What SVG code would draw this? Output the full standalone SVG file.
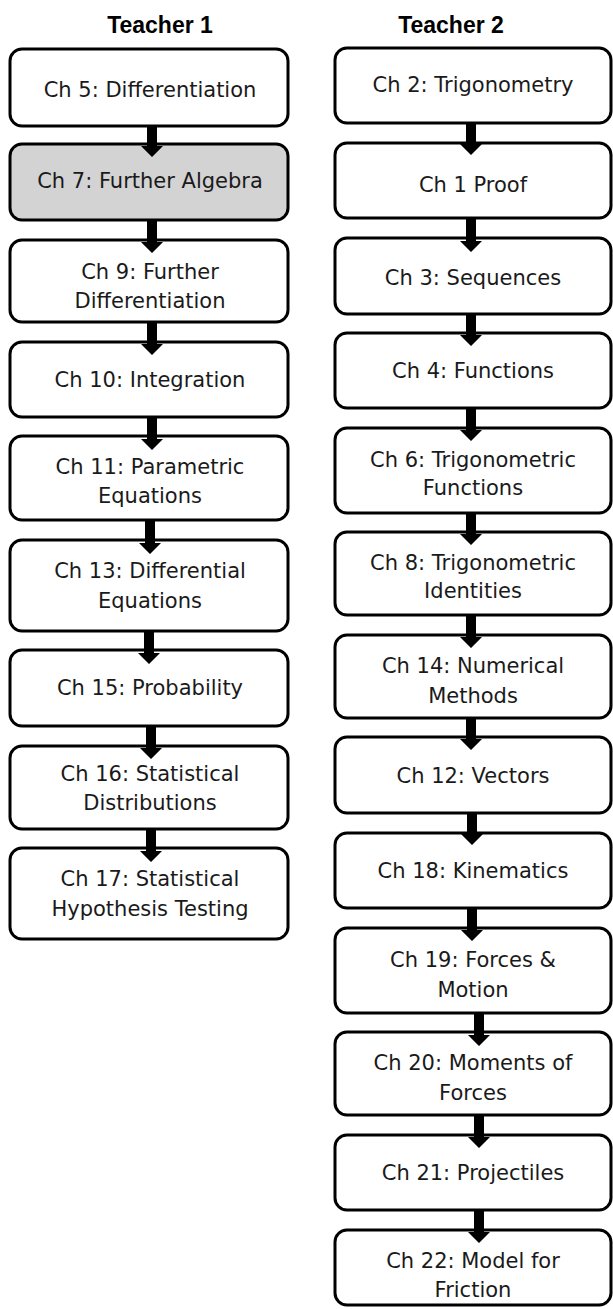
<svg xmlns="http://www.w3.org/2000/svg" width="613" height="1309" viewBox="0 0 613 1309">
<style>
.box{fill:#fff;stroke:#000;stroke-width:3}
.hl{fill:#d3d3d3}
.t{font-family:"DejaVu Sans",sans-serif;font-size:21px;fill:#1a1a1a;text-anchor:middle}
.h{font-family:"Liberation Sans",sans-serif;font-weight:bold;font-size:23px;fill:#000;text-anchor:middle}
.arr{fill:#000}
</style>
<rect width="613" height="1309" fill="#fff"/>
<g id="titles">
<text class="h" x="160" y="33">Teacher 1</text>
<text class="h" x="451" y="33">Teacher 2</text>
</g>
<g id="t1-ch5"><rect class="box" x="10" y="49" width="278" height="77" rx="12"/><text class="t" x="150" y="97">Ch 5: Differentiation</text></g>
<g id="t1-ch7"><rect class="box hl" x="10" y="144" width="278" height="76" rx="12"/><text class="t" x="150" y="188">Ch 7: Further Algebra</text></g>
<g id="t1-ch9"><rect class="box" x="10" y="240" width="278" height="82" rx="12"/><text class="t" x="150" y="279">Ch 9: Further</text><text class="t" x="150" y="308">Differentiation</text></g>
<g id="t1-ch10"><rect class="box" x="10" y="342" width="278" height="75" rx="12"/><text class="t" x="150" y="387">Ch 10: Integration</text></g>
<g id="t1-ch11"><rect class="box" x="10" y="436" width="278" height="84" rx="12"/><text class="t" x="150" y="474">Ch 11: Parametric</text><text class="t" x="150" y="503">Equations</text></g>
<g id="t1-ch13"><rect class="box" x="10" y="540" width="278" height="91" rx="12"/><text class="t" x="150" y="578">Ch 13: Differential</text><text class="t" x="150" y="608">Equations</text></g>
<g id="t1-ch15"><rect class="box" x="10" y="650" width="278" height="76" rx="12"/><text class="t" x="150" y="695">Ch 15: Probability</text></g>
<g id="t1-ch16"><rect class="box" x="10" y="746" width="278" height="83" rx="12"/><text class="t" x="150" y="781">Ch 16: Statistical</text><text class="t" x="150" y="810">Distributions</text></g>
<g id="t1-ch17"><rect class="box" x="10" y="848" width="278" height="91" rx="12"/><text class="t" x="150" y="886">Ch 17: Statistical</text><text class="t" x="150" y="916">Hypothesis Testing</text></g>

<g id="t2-ch2"><rect class="box" x="335" y="48" width="276" height="75" rx="12"/><text class="t" x="473" y="92">Ch 2: Trigonometry</text></g>
<g id="t2-ch1"><rect class="box" x="335" y="143" width="276" height="75" rx="12"/><text class="t" x="473" y="192">Ch 1 Proof</text></g>
<g id="t2-ch3"><rect class="box" x="335" y="238" width="276" height="76" rx="12"/><text class="t" x="473" y="285">Ch 3: Sequences</text></g>
<g id="t2-ch4"><rect class="box" x="335" y="333" width="276" height="75" rx="12"/><text class="t" x="473" y="378">Ch 4: Functions</text></g>
<g id="t2-ch6"><rect class="box" x="335" y="428" width="276" height="85" rx="12"/><text class="t" x="473" y="467">Ch 6: Trigonometric</text><text class="t" x="473" y="495">Functions</text></g>
<g id="t2-ch8"><rect class="box" x="335" y="532" width="276" height="83" rx="12"/><text class="t" x="473" y="570">Ch 8: Trigonometric</text><text class="t" x="473" y="598">Identities</text></g>
<g id="t2-ch14"><rect class="box" x="335" y="635" width="276" height="83" rx="12"/><text class="t" x="473" y="673">Ch 14: Numerical</text><text class="t" x="473" y="703">Methods</text></g>
<g id="t2-ch12"><rect class="box" x="335" y="737" width="276" height="76" rx="12"/><text class="t" x="473" y="783">Ch 12: Vectors</text></g>
<g id="t2-ch18"><rect class="box" x="335" y="833" width="276" height="75" rx="12"/><text class="t" x="473" y="878">Ch 18: Kinematics</text></g>
<g id="t2-ch19"><rect class="box" x="335" y="928" width="276" height="85" rx="12"/><text class="t" x="473" y="967">Ch 19: Forces &amp;</text><text class="t" x="473" y="997">Motion</text></g>
<g id="t2-ch20"><rect class="box" x="335" y="1032" width="276" height="83" rx="12"/><text class="t" x="473" y="1070">Ch 20: Moments of</text><text class="t" x="473" y="1100">Forces</text></g>
<g id="t2-ch21"><rect class="box" x="335" y="1135" width="276" height="75" rx="12"/><text class="t" x="473" y="1180">Ch 21: Projectiles</text></g>
<g id="t2-ch22"><rect class="box" x="335" y="1230" width="276" height="75" rx="12"/><text class="t" x="473" y="1268">Ch 22: Model for</text><text class="t" x="473" y="1297">Friction</text></g>

<g id="connectors" class="arr">
<path d="M147,126H157V146H163L152,157L141,146H147Z"/>
<path d="M147,220H157V242H163L152,253L141,242H147Z"/>
<path d="M147,322H157V344H163L152,355L141,344H147Z"/>
<path d="M147,417H157V439H163L152,450L141,439H147Z"/>
<path d="M145,520H155V543H161L150,554L139,543H145Z"/>
<path d="M144,631H154V653H160L149,664L138,653H144Z"/>
<path d="M146,726H156V748H162L151,759L140,748H146Z"/>
<path d="M146,829H156V851H162L151,862L140,851H146Z"/>

<path d="M466,123H476V144H482L471,155L460,144H466Z"/>
<path d="M466,218H476V241H482L471,252L460,241H466Z"/>
<path d="M466,314H476V335H482L471,346L460,335H466Z"/>
<path d="M466,408H476V430H482L471,441L460,430H466Z"/>
<path d="M466,513H476V534H482L471,545L460,534H466Z"/>
<path d="M466,615H476V637H482L471,648L460,637H466Z"/>
<path d="M466,718H476V739H482L471,750L460,739H466Z"/>
<path d="M467,813H477V834H483L472,845L461,834H467Z"/>
<path d="M467,908H477V930H483L472,941L461,930H467Z"/>
<path d="M474,1013H484V1035H490L479,1046L468,1035H474Z"/>
<path d="M474,1115H484V1137H490L479,1148L468,1137H474Z"/>
<path d="M474,1210H484V1232H490L479,1243L468,1232H474Z"/>
</g>
</svg>
